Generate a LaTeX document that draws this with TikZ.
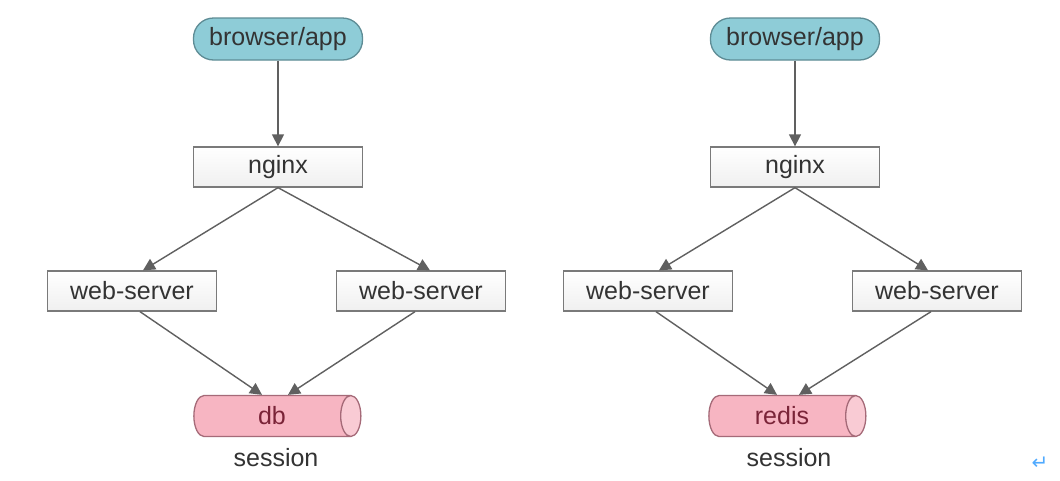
\documentclass[tikz,border=0pt]{standalone}
\usepackage{fontspec}
\setmainfont{Liberation Sans}
\newfontfamily\symfont{DejaVu Sans}
\usetikzlibrary{shapes.geometric,arrows.meta}
\definecolor{pillfill}{HTML}{8ECCD7}
\definecolor{pillline}{HTML}{5E8C95}
\definecolor{boxline}{HTML}{7A7A7A}
\definecolor{cylfill}{HTML}{F7B5C2}
\definecolor{cylline}{HTML}{A56A78}
\definecolor{cyltext}{HTML}{7A2438}
\definecolor{arr}{HTML}{606060}
\definecolor{txt}{HTML}{333333}
\begin{document}
\begin{tikzpicture}[x=1pt,y=-1pt,
  every node/.style={font=\fontsize{25}{28}\selectfont, text=txt, inner sep=0pt},
  pill/.style={draw=pillline, line width=1.3pt, fill=pillfill, rounded corners=20pt, minimum width=169pt, minimum height=42pt, text=black!80},
  box/.style={draw=boxline, line width=1.3pt, top color=white, bottom color=black!6, minimum width=169pt, minimum height=40pt},
  cyl/.style={cylinder, shape aspect=1.1, draw=cylline, line width=1.3pt, cylinder uses custom fill, cylinder body fill=cylfill, cylinder end fill=cylfill!70, minimum width=41pt, minimum height=167pt, text=cyltext},
  conn/.style={draw=arr, line width=1.4pt, -{Triangle[width=12pt,length=12pt]}},
  lbl/.style={text=txt}
]
\useasboundingbox[fill=white] (0,0) rectangle (1060,480);
% left diagram
\node[pill] (b1) at (278,39) {browser/app};
\node[box] (n1) at (278,167) {nginx};
\node[box] (wl1) at (132,291) {web-server};
\node[box] (wr1) at (421,291) {web-server};
\node[cyl] (s1) at (272,416) {db};
\node[lbl] (t1) at (276,458) {session};
\draw[conn] (b1.south) -- (n1.north);
\draw[conn] (n1.south) -- ([xshift=11pt]wl1.north);
\draw[conn] (n1.south) -- ([xshift=9pt]wr1.north);
\draw[conn] ([xshift=8pt]wl1.south) -- ([xshift=-10pt]s1.north);
\draw[conn] ([xshift=-6pt]wr1.south) -- ([xshift=16pt]s1.north);
% right diagram
\node[pill] (b2) at (795,39) {browser/app};
\node[box] (n2) at (795,167) {nginx};
\node[box] (wl2) at (648,291) {web-server};
\node[box] (wr2) at (937,291) {web-server};
\node[cyl, minimum height=157pt] (s2) at (782,416) {redis};
\node[lbl] (t2) at (789,458) {session};
\draw[conn] (b2.south) -- (n2.north);
\draw[conn] (n2.south) -- ([xshift=11pt]wl2.north);
\draw[conn] (n2.south) -- ([xshift=-9pt]wr2.north);
\draw[conn] ([xshift=8pt]wl2.south) -- ([xshift=-5pt]s2.north);
\draw[conn] ([xshift=-6pt]wr2.south) -- ([xshift=17pt]s2.north);
\node[text={rgb,255:red,80;green,170;blue,255}, font=\symfont\fontsize{20}{22}\selectfont] (ret) at (1040,463) {↵};
\end{tikzpicture}
\end{document}
